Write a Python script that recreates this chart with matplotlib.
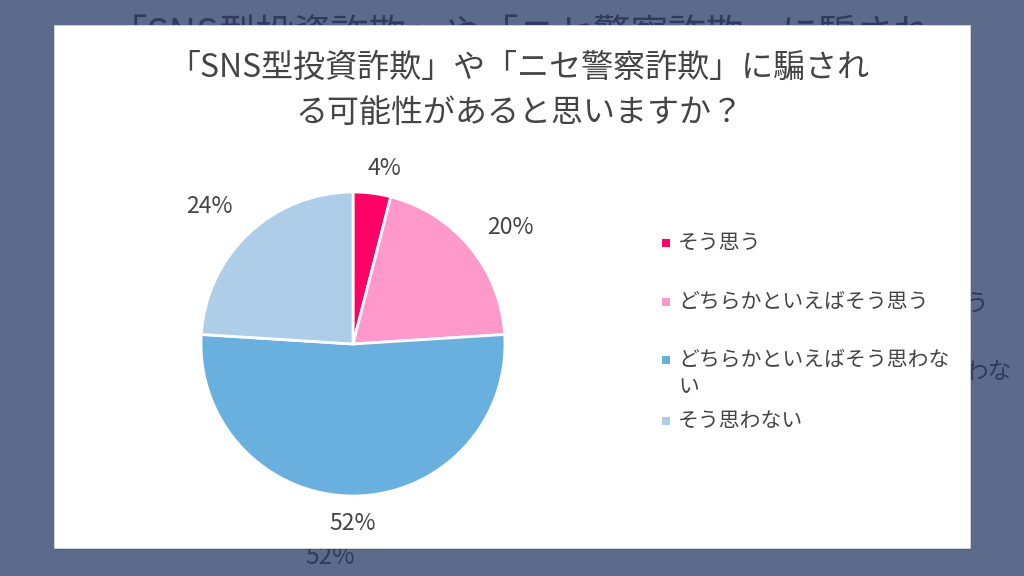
import numpy as np
import matplotlib
matplotlib.use("Agg")
from matplotlib import pyplot as plt
from matplotlib.patches import Rectangle

plt.rcParams["font.family"] = ["Noto Sans CJK JP", "DejaVu Sans"]

title_lines = ["「SNS型投資詐欺」や「ニセ警察詐欺」に騙され", "る可能性があると思いますか？"]
categories = ["そう思う", "どちらかといえばそう思う", "どちらかといえばそう思わない", "そう思わない"]
legend_text = ["そう思う", "どちらかといえばそう思う", "どちらかといえばそう思わな\nい", "そう思わない"]
shares = [4, 20, 52, 24]
colors = ["#ff0066", "#ff99cc", "#6ab0de", "#aecde8"]

bg = "#5c6a8b"
ghost = "#2f3a5c"
text_c = "#444444"

fig = plt.figure(figsize=(10.24, 5.76), dpi=100)
fig.patch.set_facecolor(bg)

# full-figure axes in pixel coordinates for the card and the ghost behind it
base = fig.add_axes([0, 0, 1, 1])
base.set_xlim(0, 1024)
base.set_ylim(576, 0)
base.axis("off")

# ghost copy of the chart peeking out from behind the card (only the visible tails)
base.text(521, 35, title_lines[0], fontsize=27, color=ghost, ha="center", va="center", zorder=1)
base.text(988, 305, legend_text[1][-1], fontsize=17, color=ghost, ha="right", va="center", zorder=1)
base.text(1012, 373, legend_text[2].split("\n")[0][-2:], fontsize=17, color=ghost,
          ha="right", va="center", zorder=1)
base.text(330, 557, f"{shares[2]}%", fontsize=17.5, color=ghost, ha="center", va="center", zorder=1)

# card with a soft shadow
for i, a in enumerate([0.10, 0.07, 0.04]):
    base.add_patch(Rectangle((54 + i, 26 + i), 916, 523, facecolor="#1c2440", alpha=a,
                             edgecolor="none", zorder=2))
base.add_patch(Rectangle((54, 25), 916, 523, facecolor="white", edgecolor="#d8d8d8",
                         linewidth=0.6, zorder=3))

base.text(519, 68, title_lines[0], fontsize=23, color=text_c, ha="center", va="center", zorder=4)
base.text(519, 113, title_lines[1], fontsize=23, color=text_c, ha="center", va="center", zorder=4)

# legend drawn by hand to follow the uneven row spacing
leg_x = 666
leg_y = [243, 302, 360, 421]
for lab, col, y in zip(legend_text, colors, leg_y):
    base.add_patch(Rectangle((leg_x - 4, y - 4), 8, 8, facecolor=col, edgecolor="none", zorder=4))
    if "\n" in lab:
        base.text(leg_x + 12, y - 11, lab, fontsize=15, color=text_c, ha="left", va="top",
                  zorder=4, linespacing=1.3)
    else:
        base.text(leg_x + 12, y, lab, fontsize=15, color=text_c, ha="left", va="center", zorder=4)

# pie
cx, cy, r = 353, 344, 152
pax = fig.add_axes([(cx - r) / 1024, (576 - cy - r) / 576, 2 * r / 1024, 2 * r / 576])
pax.set_zorder(5)
pax.patch.set_visible(False)
wedges, _ = pax.pie(shares, colors=colors, startangle=90, counterclock=False,
                    wedgeprops=dict(edgecolor="white", linewidth=2), radius=1.0)
pax.set_xlim(-1, 1)
pax.set_ylim(-1, 1)
pax.set_aspect("auto")

label_dist = [1.17, 1.29, 1.18, 1.31]
label_turn = [-3, -3, 0, 3]
for w, s, d, t in zip(wedges, shares, label_dist, label_turn):
    ang = np.deg2rad((w.theta1 + w.theta2) / 2 + t)
    pax.text(d * np.cos(ang), d * np.sin(ang), f"{s}%", fontsize=16.5, color=text_c,
             ha="center", va="center", clip_on=False)

fig.savefig("out.png", dpi=100, facecolor=bg)
